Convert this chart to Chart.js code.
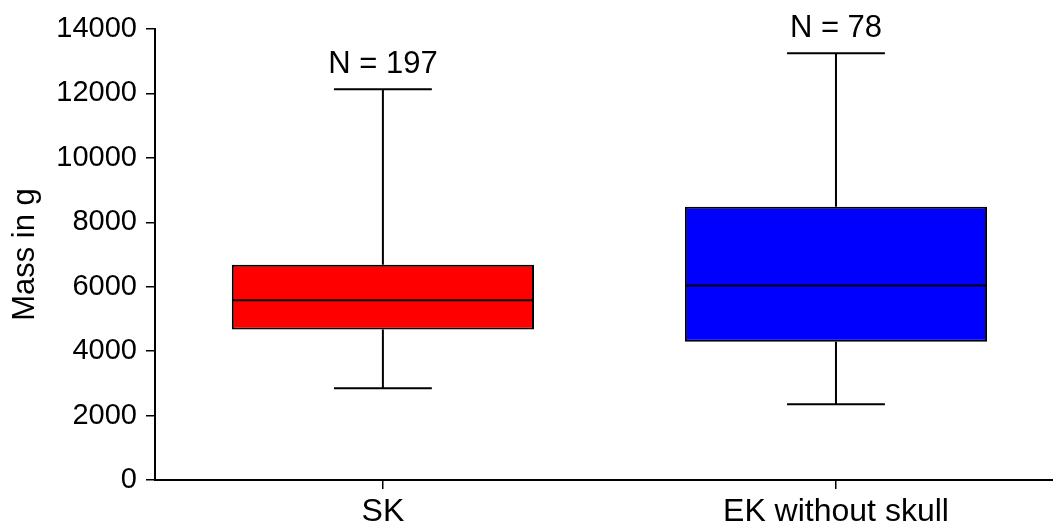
<!DOCTYPE html>
<html>
<head>
<meta charset="utf-8">
<script src="https://cdn.jsdelivr.net/npm/chart.js@4/dist/chart.umd.min.js"></script>
<style>
  html, body { margin: 0; padding: 0; background: #fff; }
  canvas { display: block; }
</style>
</head>
<body>
<canvas id="myChart" width="1053" height="525"></canvas>
<script>
// Box plot values (grams)
const categories = ['SK', 'EK without skull'];
const whiskerMin = [2850, 2350];
const q1 = [4670, 4290];
const median = [5580, 6040];
const q3 = [6680, 8480];
const whiskerMax = [12130, 13250];
const counts = [197, 78];
const boxColors = ['#ff0000', '#0000ff'];

const FONT = 'Arial, "Liberation Sans", sans-serif';

// Whiskers, caps, medians and N labels, all placed through the chart scales
const boxExtras = {
    id: 'boxExtras',
    afterDatasetsDraw(chart) {
        const ctx = chart.ctx;
        const xs = chart.scales.x;
        const ys = chart.scales.y;
        ctx.save();
        ctx.strokeStyle = '#000';
        ctx.lineWidth = 2;
        categories.forEach((cat, i) => {
            const cx = xs.getPixelForValue(i);
            const capL = xs.getPixelForValue(i - 0.108);
            const capR = xs.getPixelForValue(i + 0.108);
            const boxL = xs.getPixelForValue(i - 0.333);
            const boxR = xs.getPixelForValue(i + 0.333);
            const yMin = ys.getPixelForValue(whiskerMin[i]);
            const yQ1 = ys.getPixelForValue(q1[i]);
            const yMed = ys.getPixelForValue(median[i]);
            const yQ3 = ys.getPixelForValue(q3[i]);
            const yMax = ys.getPixelForValue(whiskerMax[i]);

            ctx.beginPath();
            // upper whisker + cap
            ctx.moveTo(cx, yQ3); ctx.lineTo(cx, yMax);
            ctx.moveTo(capL, yMax); ctx.lineTo(capR, yMax);
            // lower whisker + cap
            ctx.moveTo(cx, yQ1); ctx.lineTo(cx, yMin);
            ctx.moveTo(capL, yMin); ctx.lineTo(capR, yMin);
            // median
            ctx.moveTo(boxL, yMed); ctx.lineTo(boxR, yMed);
            ctx.stroke();

            // sample size above the top cap
            ctx.fillStyle = '#000';
            ctx.font = '31px ' + FONT;
            ctx.textAlign = 'center';
            ctx.textBaseline = 'alphabetic';
            ctx.fillText('N = ' + counts[i], cx, yMax - 16);
        });
        ctx.restore();
    }
};

const ctx = document.getElementById('myChart').getContext('2d');
new Chart(ctx, {
    type: 'bar',
    data: {
        datasets: [{
            data: categories.map((c, i) => ({ x: i, y: [q1[i], q3[i]] })),
            backgroundColor: boxColors,
            borderColor: '#000',
            borderWidth: 2,
            borderSkipped: false,
            barPercentage: 0.667,
            categoryPercentage: 1
        }]
    },
    options: {
        responsive: false,
        animation: false,
        layout: { padding: { top: 29, right: 0, left: 0, bottom: 0 } },
        plugins: {
            legend: { display: false },
            tooltip: { enabled: false }
        },
        scales: {
            x: {
                type: 'linear',
                min: -0.503,
                max: 1.479,
                offset: false,
                afterBuildTicks: (scale) => {
                    scale.ticks = categories.map((c, i) => ({ value: i }));
                },
                afterFit: (scale) => { scale.height = 45; },
                ticks: {
                    callback: (v) => categories[v],
                    color: '#000',
                    font: { size: 32, family: FONT },
                    padding: 4,
                    maxRotation: 0
                },
                grid: {
                    offset: false,
                    drawOnChartArea: false,
                    drawTicks: true,
                    tickLength: 9,
                    color: '#000',
                    lineWidth: 1.5
                },
                border: { display: true, color: '#000', width: 2 }
            },
            y: {
                min: 0,
                max: 14000,
                afterFit: (scale) => { scale.width = 155; },
                ticks: {
                    stepSize: 2000,
                    callback: (v) => String(v),
                    color: '#000',
                    font: { size: 29, family: FONT },
                    padding: 9
                },
                grid: {
                    drawOnChartArea: false,
                    drawTicks: true,
                    tickLength: 9,
                    color: '#000',
                    lineWidth: 1.5
                },
                border: { display: true, color: '#000', width: 2 },
                title: {
                    display: true,
                    text: 'Mass in g',
                    color: '#000',
                    font: { size: 31, family: FONT },
                    padding: { top: 7, bottom: 0 }
                }
            }
        }
    },
    plugins: [boxExtras]
});
</script>
</body>
</html>
